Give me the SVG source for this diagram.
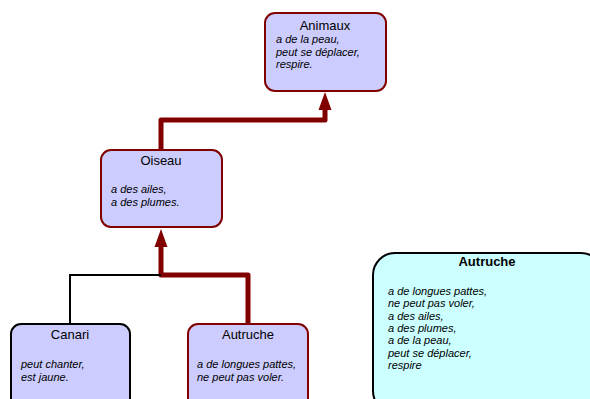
<svg xmlns="http://www.w3.org/2000/svg" width="590" height="399" viewBox="0 0 590 399">
<defs>
<style>
.box{fill:#ccccff;stroke-width:2}
.red{stroke:#800000}
.blk{stroke:#000000}
.t{font-family:"Liberation Sans",Arial,sans-serif;font-size:13px;text-anchor:middle;fill:#000}
.i{font-family:"Liberation Sans",Arial,sans-serif;font-size:11px;font-style:italic;fill:#000}
.b{font-family:"Liberation Sans",Arial,sans-serif;font-size:13px;font-weight:bold;text-anchor:middle;fill:#000}
.thick{fill:none;stroke:#800000;stroke-width:5;stroke-linejoin:round}
</style>
</defs>
<g id="connectors">
<path class="thick" d="M161,150 V120 H325 V108"/>
<polygon points="325,92 318.5,110 331.5,110" fill="#800000"/>
<path class="thick" d="M248,324 V275 H161 V245"/>
<polygon points="161,229 154.5,247 167.5,247" fill="#800000"/>
<path d="M161,275 H70 V324" fill="none" stroke="#000" stroke-width="2"/>
</g>
<g id="animaux">
<rect class="box red" x="265" y="13" width="121" height="78" rx="10"/>
<text class="t" x="325" y="30">Animaux</text>
<text class="i" x="276" y="43">a de la peau,</text>
<text class="i" x="276" y="55.5">peut se déplacer,</text>
<text class="i" x="276" y="68">respire.</text>
</g>
<g id="oiseau">
<rect class="box red" x="101" y="150" width="121" height="77" rx="10"/>
<text class="t" x="161" y="165">Oiseau</text>
<text class="i" x="111" y="193">a des ailes,</text>
<text class="i" x="111" y="205.5">a des plumes.</text>
</g>
<g id="canari">
<rect class="box blk" x="11" y="324" width="119" height="90" rx="10"/>
<text class="t" x="70" y="339">Canari</text>
<text class="i" x="21" y="368">peut chanter,</text>
<text class="i" x="21" y="381">est jaune.</text>
</g>
<g id="autruche">
<rect class="box red" x="188" y="324" width="120" height="90" rx="10"/>
<text class="t" x="248" y="339">Autruche</text>
<text class="i" x="197" y="368">a de longues pattes,</text>
<text class="i" x="197" y="381">ne peut pas voler.</text>
</g>
<g id="autruche2">
<rect x="373" y="253" width="230" height="160" rx="22" fill="#ccffff" stroke="#000" stroke-width="2"/>
<text class="b" x="487" y="266">Autruche</text>
<text class="i" x="388" y="295">a de longues pattes,</text>
<text class="i" x="388" y="307.3">ne peut pas voler,</text>
<text class="i" x="388" y="319.6">a des ailes,</text>
<text class="i" x="388" y="331.9">a des plumes,</text>
<text class="i" x="388" y="344.2">a de la peau,</text>
<text class="i" x="388" y="356.5">peut se déplacer,</text>
<text class="i" x="388" y="368.8">respire</text>
</g>
</svg>
